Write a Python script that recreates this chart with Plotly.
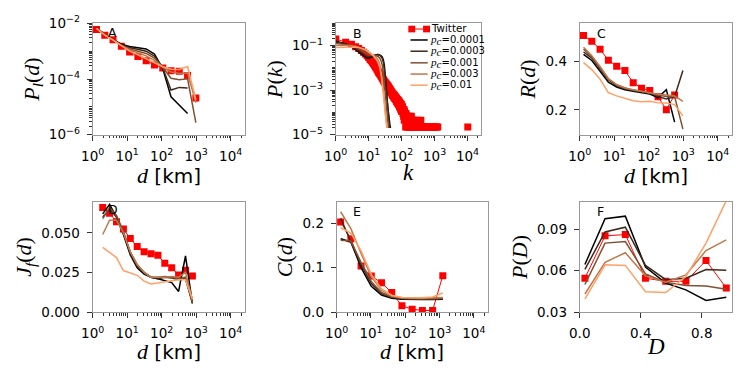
import plotly.graph_objects as go

# ======================= DATA =======================
pc_labels = ["0.0001", "0.0003", "0.001", "0.003", "0.01"]

# ---- Panel A : P_l(d) ----
a_d = [1.288, 2.239, 3.890, 6.761, 11.75, 20.42, 35.48, 61.66, 107.2, 186.2, 323.6, 562.3, 977.2]
a_twitter = [6.03e-3, 3.72e-3, 2.57e-3, 1.51e-3, 9.3e-4, 6.5e-4, 4.5e-4, 3.2e-4, 2.5e-4, 2.0e-4, 1.9e-4, 1.35e-4, 2.1e-5]
a_pc1 = [6.9e-3, 4.0e-3, 2.6e-3, 1.78e-3, 1.48e-3, 1.35e-3, 1.2e-3, 7.9e-4, 2.4e-4, 2.3e-5, 1.15e-5, 5.8e-6]
a_pc2 = [6.8e-3, 4.0e-3, 2.6e-3, 1.7e-3, 1.35e-3, 1.17e-3, 1.0e-3, 6.6e-4, 2.5e-4, 4.0e-5, 5.0e-5, 4.8e-5]
a_pc3 = [6.8e-3, 3.9e-3, 2.6e-3, 1.62e-3, 1.2e-3, 1.0e-3, 8.3e-4, 5.6e-4, 2.6e-4, 1.07e-4, 9.5e-5, 1.02e-4, 2.7e-6]
a_pc4 = [6.6e-3, 3.9e-3, 2.57e-3, 1.58e-3, 1.1e-3, 8.5e-4, 6.8e-4, 4.7e-4, 2.7e-4, 1.78e-4, 1.58e-4, 1.66e-4, 1.4e-5]
a_pc5 = [6.6e-3, 3.8e-3, 2.5e-3, 1.55e-3, 1.0e-3, 7.4e-4, 5.4e-4, 3.8e-4, 2.75e-4, 2.24e-4, 2.19e-4, 2.8e-4, 1.8e-5]

# ---- Panel B : P(k) ----
# consecutive degrees k = 1..100 (all non-empty)
b_twitter_k = list(range(1, 101))
b_twitter = [
    0.200, 0.142, 0.115, 0.089, 0.074, 0.060, 0.050, 0.042, 0.035, 0.029,
    0.024, 0.021, 0.018, 0.0152, 0.0131, 0.0112, 0.0098, 0.0084, 0.0073, 0.0064,
    5.79e-3, 5.30e-3, 4.81e-3, 4.30e-3, 3.89e-3, 3.49e-3, 3.20e-3, 2.91e-3, 2.59e-3, 2.39e-3,
    2.33e-3, 2.08e-3, 2.06e-3, 1.81e-3, 1.86e-3, 1.61e-3, 1.68e-3, 1.43e-3, 1.48e-3, 1.30e-3,
    1.32e-3, 1.14e-3, 1.16e-3, 1.01e-3, 1.05e-3, 8.95e-4, 9.40e-4, 7.83e-4, 8.50e-4, 7.38e-4,
    7.83e-4, 6.26e-4, 6.93e-4, 5.82e-4, 6.71e-4, 5.59e-4, 6.26e-4, 4.92e-4, 6.04e-4, 4.70e-4,
    5.59e-4, 4.25e-4, 5.15e-4, 4.47e-4, 4.03e-4, 4.92e-4, 3.80e-4, 4.47e-4, 3.36e-4, 4.25e-4,
    3.13e-4, 4.03e-4, 2.91e-4, 3.80e-4, 2.68e-4, 3.58e-4, 2.91e-4, 3.36e-4, 2.46e-4, 3.13e-4,
    2.24e-4, 3.36e-4, 2.46e-4, 2.68e-4, 2.01e-4, 2.91e-4, 1.79e-4, 2.68e-4, 2.01e-4, 2.46e-4,
    1.57e-4, 2.24e-4, 1.79e-4, 2.46e-4, 1.34e-4, 2.01e-4, 1.57e-4, 2.24e-4, 1.12e-4, 1.79e-4]
# sparse tail: isolated degrees (their neighbours have zero count, so no connecting line)
b_tail_k = [
    102, 105, 107, 110, 112, 115, 118, 120, 123, 126, 130, 133, 136, 140, 144, 148, 152, 156, 160,
    165, 170, 175, 180, 186, 192, 198, 205, 212, 220, 228, 236, 245, 255, 265, 278, 290, 305, 320,
    340, 360, 383, 400, 430, 460, 500, 540, 590, 640, 700, 760, 830, 900, 980, 1080, 1150, 1250, 10200]
b_tail = [
    1.57e-4, 1.12e-4, 1.79e-4, 8.95e-5, 1.34e-4, 6.71e-5, 1.34e-4, 4.47e-5, 1.12e-4, 6.71e-5,
    8.95e-5, 2.24e-5, 8.95e-5, 4.47e-5, 6.71e-5, 2.24e-5, 6.71e-5, 4.47e-5, 2.24e-5, 6.71e-5,
    2.24e-5, 4.47e-5, 2.24e-5, 4.47e-5, 2.24e-5, 6.71e-5, 2.24e-5, 4.47e-5, 2.24e-5, 2.24e-5,
    4.47e-5, 2.24e-5, 2.24e-5, 2.24e-5, 2.24e-5, 4.47e-5, 2.24e-5, 2.24e-5, 2.24e-5, 2.24e-5,
    4.47e-5, 2.24e-5, 2.24e-5, 2.24e-5, 2.24e-5, 2.24e-5, 2.24e-5, 2.24e-5, 2.24e-5, 2.24e-5,
    2.24e-5, 2.24e-5, 2.24e-5, 2.24e-5, 2.24e-5, 2.24e-5, 2.24e-5]
b_model_k = [1, 2, 3, 4, 5, 6, 7, 8, 9, 10, 12, 14, 16, 18, 20, 22, 24, 26, 28, 30,
             32, 34, 36, 38, 40, 42, 44, 46]
b_pc1 = [0.158, 0.120, 0.0891, 0.0676, 0.0525, 0.0417, 0.0347, 0.0295, 0.0269, 0.0269,
         0.0302, 0.0347, 0.0380, 0.0398, 0.0398, 0.0380, 0.0347, 0.0302, 0.0224, 0.0126,
         5.01e-3, 1.58e-3, 5.01e-4, 1.78e-4, 7.94e-5, 3.98e-5, 2.82e-5, 2.00e-5]
b_pc2 = [0.145, 0.117, 0.0933, 0.0741, 0.0589, 0.0479, 0.0398, 0.0347, 0.0316, 0.0309,
         0.0324, 0.0355, 0.0380, 0.0389, 0.0389, 0.0363, 0.0324, 0.0263, 0.0178, 8.91e-3,
         3.55e-3, 1.12e-3, 3.55e-4, 1.26e-4, 5.62e-5, 3.16e-5, 2.00e-5]
b_pc3 = [0.126, 0.112, 0.0977, 0.0851, 0.0724, 0.0617, 0.0537, 0.0468, 0.0427, 0.0398,
         0.0372, 0.0363, 0.0355, 0.0339, 0.0309, 0.0263, 0.0200, 0.0126, 5.62e-3, 2.00e-3,
         6.31e-4, 2.00e-4, 7.94e-5, 3.55e-5, 2.00e-5]
b_pc4 = [0.105, 0.105, 0.100, 0.0933, 0.0851, 0.0776, 0.0692, 0.0617, 0.0550, 0.0501,
         0.0427, 0.0372, 0.0316, 0.0263, 0.0200, 0.0132, 7.08e-3, 2.82e-3, 1.00e-3, 3.16e-4,
         1.12e-4, 4.47e-5, 2.00e-5]
b_pc5 = [0.0832, 0.0871, 0.0891, 0.0871, 0.0832, 0.0776, 0.0708, 0.0646, 0.0575, 0.0525,
         0.0427, 0.0347, 0.0275, 0.0214, 0.0151, 9.55e-3, 4.79e-3, 1.91e-3, 6.31e-4, 2.24e-4,
         7.94e-5, 3.55e-5, 2.00e-5]

# ---- Panel C : R(d) ----
c_d = a_d
c_twitter = [0.508, 0.485, 0.451, 0.406, 0.381, 0.363, 0.313, 0.290, 0.280, 0.254, 0.201, 0.262]
c_pc1 = [0.430, 0.405, 0.360, 0.315, 0.295, 0.283, 0.277, 0.270, 0.266, 0.251, 0.284, 0.149]
c_pc2 = [0.440, 0.415, 0.370, 0.325, 0.300, 0.288, 0.280, 0.275, 0.270, 0.255, 0.245, 0.255, 0.363]
c_pc3 = [0.452, 0.420, 0.375, 0.328, 0.303, 0.290, 0.282, 0.277, 0.270, 0.262, 0.255, 0.255, 0.120]
c_pc4 = [0.460, 0.425, 0.380, 0.330, 0.305, 0.292, 0.283, 0.277, 0.270, 0.265, 0.262, 0.258, 0.235]
c_pc5 = [0.396, 0.367, 0.327, 0.271, 0.258, 0.247, 0.238, 0.234, 0.236, 0.229, 0.228, 0.222, 0.175]

# ---- Panel D : J_f(d) ----
d_d = [1.950, 3.090, 4.898, 7.762, 12.30, 19.50, 30.90, 48.98, 77.62, 123.0, 195.0, 309.0, 489.8, 776.2]
d_twitter = [0.0660, 0.0624, 0.0570, 0.0524, 0.0464, 0.0414, 0.0380, 0.0368, 0.0358, 0.0308,
             0.0280, 0.0234, 0.0264, 0.0228]
d_pc1 = [0.062, 0.068, 0.060, 0.049, 0.036, 0.028, 0.024, 0.022, 0.021, 0.020, 0.0186, 0.013, 0.0354, 0.0055]
d_pc2 = [0.060, 0.065, 0.060, 0.050, 0.037, 0.029, 0.025, 0.022, 0.021, 0.022, 0.0215, 0.0205, 0.021, 0.0055]
d_pc3 = [0.059, 0.066, 0.061, 0.051, 0.038, 0.030, 0.025, 0.022, 0.022, 0.0225, 0.022, 0.021, 0.022, 0.006]
d_pc4 = [0.049, 0.058, 0.058, 0.050, 0.038, 0.030, 0.025, 0.022, 0.022, 0.022, 0.0225, 0.022, 0.025, 0.008]
d_pc5 = [0.0408, 0.0378, 0.0344, 0.0262, 0.0245, 0.0232, 0.0195, 0.0177, 0.0183, 0.0192, 0.0198,
         0.0204, 0.0204, 0.008]

# ---- Panel E : C(d) ----
e_d = [1.303, 2.588, 5.140, 10.21, 20.28, 40.27, 79.98, 158.9, 315.5, 626.6, 1245.0]
e_twitter = [0.203, 0.165, 0.104, 0.081, 0.066, 0.044, 0.014, 0.0064, 0.0035, 0.0035, 0.082]
e_pc1 = [0.165, 0.158, 0.100, 0.058, 0.038, 0.031, 0.029, 0.028, 0.028, 0.028, 0.029]
e_pc2 = [0.211, 0.160, 0.106, 0.064, 0.041, 0.033, 0.030, 0.029, 0.029, 0.029, 0.030]
e_pc3 = [0.162, 0.160, 0.112, 0.069, 0.044, 0.034, 0.031, 0.030, 0.030, 0.030, 0.031]
e_pc4 = [0.226, 0.188, 0.132, 0.080, 0.049, 0.036, 0.032, 0.031, 0.031, 0.032, 0.033]
e_pc5 = [0.190, 0.178, 0.138, 0.085, 0.052, 0.038, 0.033, 0.032, 0.032, 0.034, 0.043]

# ---- Panel F : P(D) ----
f_D = [0.034, 0.166, 0.299, 0.431, 0.564, 0.696, 0.828, 0.961]
f_twitter = [0.0546, 0.0854, 0.0863, 0.0546, 0.0523, 0.0523, 0.0674, 0.0475]
f_pc1 = [0.0646, 0.0979, 0.0997, 0.0627, 0.0511, 0.0461, 0.0384, 0.0407]
f_pc2 = [0.0610, 0.0882, 0.0917, 0.0639, 0.0535, 0.0546, 0.0609, 0.0604]
f_pc3 = [0.0500, 0.0801, 0.0812, 0.0577, 0.0516, 0.0493, 0.0489, 0.0466]
f_pc4 = [0.0431, 0.0662, 0.0731, 0.0563, 0.0516, 0.0570, 0.0747, 0.0824]
f_pc5 = [0.0396, 0.0643, 0.0639, 0.0447, 0.0442, 0.0558, 0.0801, 0.1110]

# ======================= STYLE =======================
W, H = 747, 374
pc_colors = ["#000000", "#40281a", "#805033", "#bf784c", "#ffa066"]
RED = "#ff0000"
SERIF = "Liberation Serif"
SANS = "DejaVu Sans"


def mi(s, size=None):
    st = "font-family:%s" % SERIF
    if size:
        st += ";font-size:%spx" % size
    return "<span style='%s'><i>%s</i></span>" % (st, s)


# Twitter series of panel B: consecutive part joined by a line, tail points isolated
b_tw_x = b_twitter_k + [v for k in b_tail_k for v in (k, k)]
b_tw_y = b_twitter + [v for p in b_tail for v in (None, p)]

fig = go.Figure()

panels = [
    ("x", "y", a_d, a_twitter, a_d, [a_pc1, a_pc2, a_pc3, a_pc4, a_pc5]),
    ("x2", "y2", b_tw_x, b_tw_y, b_model_k, [b_pc1, b_pc2, b_pc3, b_pc4, b_pc5]),
    ("x3", "y3", c_d, c_twitter, c_d, [c_pc1, c_pc2, c_pc3, c_pc4, c_pc5]),
    ("x4", "y4", d_d, d_twitter, d_d, [d_pc1, d_pc2, d_pc3, d_pc4, d_pc5]),
    ("x5", "y5", e_d, e_twitter, e_d, [e_pc1, e_pc2, e_pc3, e_pc4, e_pc5]),
    ("x6", "y6", f_D, f_twitter, f_D, [f_pc1, f_pc2, f_pc3, f_pc4, f_pc5]),
]

for xa, ya, tx, ty, mx, models in panels:
    fig.add_trace(go.Scatter(
        x=tx, y=ty, xaxis=xa, yaxis=ya, name="Twitter", mode="lines+markers",
        line=dict(color=RED, width=1), marker=dict(symbol="square", size=7, color=RED),
        connectgaps=False, showlegend=False))
    for vals, col, lab in zip(models, pc_colors, pc_labels):
        fig.add_trace(go.Scatter(
            x=mx[:len(vals)], y=vals, xaxis=xa, yaxis=ya, name="p_c=" + lab, mode="lines",
            line=dict(color=col, width=1.5), showlegend=False))


def px_x(p):
    return p / W


def px_y(p):
    return 1 - p / H


boxes = {  # left, right, top, bottom in px
    1: (82, 237, 14, 131), 2: (329, 477, 14, 131), 3: (577, 732, 14, 131),
    4: (82, 237, 201.7, 317.3), 5: (330, 484, 201.7, 317.3), 6: (577, 732, 201.7, 317.3),
}

tickfont = dict(family=SANS, size=13.5, color="black")
TICKC = "#333333"
LINEC = "#999999"


def sup(e):
    return "10<sup>%s</sup>" % (e if e >= 0 else "\u2212%d" % (-e))


def log_minor(lo, hi, extra=()):
    out = [m * 10.0 ** e for e in range(lo, hi) for m in range(2, 10)]
    return out + [10.0 ** e for e in extra]


xlog = dict(type="log", range=[0, 4.42], tickmode="array", tickvals=[1, 10, 100, 1000, 10000],
            ticktext=[sup(e) for e in range(0, 5)], ticklabelstandoff=4,
            minor=dict(tickmode="array", tickvals=log_minor(0, 5), ticks="outside", ticklen=2.5,
                       tickcolor=TICKC, showgrid=False))

base = dict(ticks="outside", ticklen=5, tickwidth=1, tickcolor=TICKC, showline=True,
            linecolor=LINEC, linewidth=1, mirror=True, showgrid=False, zeroline=False,
            tickfont=tickfont)

ytfont = dict(family=SERIF, size=22, color="black")
YSO = 3
YLS = 4

axes_cfg = {
    1: (dict(xlog),
        dict(type="log", range=[-6, -2], tickmode="array", tickvals=[1e-6, 1e-4, 1e-2],
             ticktext=[sup(-6), sup(-4), sup(-2)], ticklabelstandoff=YLS,
             minor=dict(tickmode="array", tickvals=log_minor(-6, -2, (-5, -3)), ticks="outside",
                        ticklen=2.5, tickcolor=TICKC, showgrid=False),
             title=dict(text=mi("P") + "<sub>" + mi("l") + "</sub>(" + mi("d") + ")",
                        font=ytfont, standoff=YSO))),
    2: (dict(xlog),
        dict(type="log", range=[-5, 0], tickmode="array", tickvals=[1e-5, 1e-3, 1e-1],
             ticktext=[sup(-5), sup(-3), sup(-1)], ticklabelstandoff=YLS,
             minor=dict(tickmode="array", tickvals=log_minor(-5, 0, (-4, -2, 0)), ticks="outside",
                        ticklen=2.5, tickcolor=TICKC, showgrid=False),
             title=dict(text=mi("P") + "(" + mi("k") + ")", font=ytfont, standoff=YSO))),
    3: (dict(xlog),
        dict(range=[0.097, 0.559], tickmode="array", tickvals=[0.2, 0.4], ticktext=["0.2", "0.4"],
             ticklabelstandoff=YLS,
             title=dict(text=mi("R") + "(" + mi("d") + ")", font=ytfont, standoff=YSO))),
    4: (dict(xlog),
        dict(range=[0, 0.0695], tickmode="array", tickvals=[0, 0.025, 0.05],
             ticktext=["0.000", "0.025", "0.050"], ticklabelstandoff=YLS,
             title=dict(text=mi("J") + "<sub>" + mi("f") + "</sub>(" + mi("d") + ")",
                        font=ytfont, standoff=YSO))),
    5: (dict(xlog),
        dict(range=[0, 0.248], tickmode="array", tickvals=[0, 0.1, 0.2],
             ticktext=["0.0", "0.1", "0.2"], ticklabelstandoff=YLS,
             title=dict(text=mi("C") + "(" + mi("d") + ")", font=ytfont, standoff=YSO))),
    6: (dict(range=[0.0, 1.0], tickmode="array", tickvals=[0.0, 0.4, 0.8],
             ticktext=["0.0", "0.4", "0.8"], ticklabelstandoff=4),
        dict(range=[0.03, 0.11], tickmode="array", tickvals=[0.03, 0.06, 0.09],
             ticktext=["0.03", "0.06", "0.09"], ticklabelstandoff=YLS,
             title=dict(text=mi("P") + "(" + mi("D") + ")", font=ytfont, standoff=YSO))),
}

layout_axes = {}
for i in range(1, 7):
    l, r, t, b = boxes[i]
    xc, yc = axes_cfg[i]
    sfx = "" if i == 1 else str(i)
    xd = dict(base)
    xd.update(xc)
    xd.update(domain=[px_x(l), px_x(r)], anchor="y" + sfx)
    yd = dict(base)
    yd.update(yc)
    yd.update(domain=[px_y(b), px_y(t)], anchor="x" + sfx)
    layout_axes["xaxis" + sfx] = xd
    layout_axes["yaxis" + sfx] = yd

fig.update_layout(width=W, height=H, margin=dict(l=0, r=0, t=0, b=0),
                  paper_bgcolor="white", plot_bgcolor="white", showlegend=False,
                  font=dict(family=SANS, color="black"), **layout_axes)

# x-axis titles (placed as text under each panel)
xtitle_d = mi("d", 22) + " [km]"
xtitles = [(1, xtitle_d, 174), (2, mi("k", 23), 171), (3, xtitle_d, 174),
           (4, xtitle_d, 359), (5, xtitle_d, 359), (6, mi("D", 23), 354)]
for i, txt, yc in xtitles:
    l, r, t, b = boxes[i]
    fig.add_annotation(x=px_x((l + r) / 2), y=px_y(yc), xref="paper", yref="paper", text=txt,
                       showarrow=False, xanchor="center", yanchor="middle",
                       font=dict(family=SANS, size=20, color="black"))

# panel letters
letters = [("A", 102.5, 24), ("B", 351, 25), ("C", 598.7, 24.5),
           ("D", 103, 209.5), ("E", 351, 211.7), ("F", 598, 211.3)]
for txt, x, y in letters:
    fig.add_annotation(x=px_x(x), y=px_y(y), xref="paper", yref="paper", text=txt,
                       showarrow=False, font=dict(family=SANS, size=12.5, color="black"),
                       xanchor="center", yanchor="middle")

# legend of panel B (drawn by hand to match the compact matplotlib legend)
leg_y = [20, 31.5, 43.3, 55.5, 67.3, 79]
fig.add_shape(type="line", xref="paper", yref="paper", x0=px_x(406.3), x1=px_x(421.3),
              y0=px_y(leg_y[0]), y1=px_y(leg_y[0]), line=dict(color=RED, width=1))
for cx in (406.3, 421.3):
    fig.add_shape(type="rect", xref="paper", yref="paper", x0=px_x(cx - 3.5), x1=px_x(cx + 3.5),
                  y0=px_y(leg_y[0] - 3.5), y1=px_y(leg_y[0] + 3.5), fillcolor=RED,
                  line=dict(width=0))
fig.add_annotation(x=px_x(425), y=px_y(leg_y[0] - 1.3), xref="paper", yref="paper", text="Twitter",
                   showarrow=False, xanchor="left", yanchor="middle", borderpad=0,
                   font=dict(family=SANS, size=10.3, color="black"))
for yy, col, lab in zip(leg_y[1:], pc_colors, pc_labels):
    fig.add_shape(type="line", xref="paper", yref="paper", x0=px_x(405), x1=px_x(422.5),
                  y0=px_y(yy), y1=px_y(yy), line=dict(color=col, width=1.5))
    fig.add_annotation(x=px_x(424.3), y=px_y(yy), xref="paper", yref="paper",
                       text=mi("p", 11.2) + "<sub>" + mi("c", 11.2) + "</sub>=" + lab,
                       showarrow=False, xanchor="left", yanchor="middle", borderpad=0,
                       font=dict(family=SANS, size=10, color="black"))

# the page's default 8px body margin would shift the figure inside the 747x374 window
fig.write_html("out.html", config={"displayModeBar": False},
               post_script="document.body.style.margin='0';")
